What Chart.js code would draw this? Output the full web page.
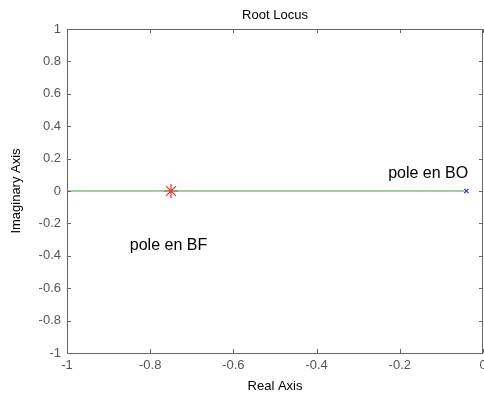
<!DOCTYPE html>
<html>
<head>
<meta charset="utf-8">
<script src="https://cdn.jsdelivr.net/npm/chart.js@4"></script>
<style>
  html, body { margin: 0; padding: 0; background: #fff; }
  #wrap { width: 484px; height: 394px; }
</style>
</head>
<body>
<div id="wrap"><canvas id="c" width="484" height="394"></canvas></div>
<script>
// lieu des racines (axe réel)
const locusX = [-1, -0.045];
const locusY = [0, 0];
// pôle en boucle fermée / ouverte
const poleBF = [-0.75, 0];
const poleBO = [-0.04, 0];
// graduations
const xTicks = [-1, -0.8, -0.6, -0.4, -0.2, 0];
const yTicks = [-1, -0.8, -0.6, -0.4, -0.2, 0, 0.2, 0.4, 0.6, 0.8, 1];
// textes
const labelTexts = ['pole en BO', 'pole en BF'];
const labelX = [-0.228, -0.849];
const labelY = [0.105, -0.34];

const axisColor = '#666';
const font = "'Liberation Sans', Arial, sans-serif";

// cadre + graduations vers l'intérieur, titre et annotations
const matlabAxes = {
  id: 'matlabAxes',
  afterDraw(chart) {
    const { ctx, chartArea: a, scales: { x, y } } = chart;
    ctx.save();
    ctx.strokeStyle = axisColor;
    ctx.lineWidth = 1;
    ctx.strokeRect(a.left + 0.5, a.top + 0.5, a.right - a.left - 1, a.bottom - a.top);
    ctx.beginPath();
    xTicks.forEach(v => {
      const px = Math.round(x.getPixelForValue(v)) + 0.5;
      ctx.moveTo(px, a.bottom); ctx.lineTo(px, a.bottom - 4);
      ctx.moveTo(px, a.top); ctx.lineTo(px, a.top + 4);
    });
    yTicks.forEach(v => {
      const py = Math.round(y.getPixelForValue(v)) + 0.5;
      ctx.moveTo(a.left, py); ctx.lineTo(a.left + 4, py);
      ctx.moveTo(a.right, py); ctx.lineTo(a.right - 4, py);
    });
    ctx.stroke();

    ctx.fillStyle = '#000';
    ctx.font = '13px ' + font;
    ctx.textAlign = 'center';
    ctx.textBaseline = 'middle';
    ctx.fillText('Root Locus', (a.left + a.right) / 2, 15);

    ctx.font = '16px ' + font;
    ctx.textAlign = 'left';
    labelTexts.forEach((t, i) => {
      ctx.fillText(t, x.getPixelForValue(labelX[i]), y.getPixelForValue(labelY[i]));
    });
    ctx.restore();
  }
};

new Chart(document.getElementById('c'), {
  type: 'scatter',
  data: {
    datasets: [
      {
        data: locusX.map((v, i) => ({ x: v, y: locusY[i] })),
        showLine: true, borderColor: 'rgb(70,160,70)', borderWidth: 1.2,
        pointRadius: 0
      },
      {
        data: [{ x: poleBF[0], y: poleBF[1] }],
        pointStyle: 'star', pointRadius: 7, borderColor: 'rgb(255,40,40)',
        backgroundColor: 'rgb(255,40,40)', pointBorderWidth: 1.2
      },
      {
        data: [{ x: poleBO[0], y: poleBO[1] }],
        pointStyle: 'crossRot', pointRadius: 3, borderColor: '#22f',
        pointBorderWidth: 1.2
      }
    ]
  },
  options: {
    responsive: false,
    animation: false,
    layout: { autoPadding: false, padding: { top: 29, right: 1, left: 0, bottom: 0 } },
    plugins: { legend: { display: false }, tooltip: { enabled: false } },
    scales: {
      x: {
        type: 'linear', min: -1, max: 0,
        afterBuildTicks: s => { s.ticks = xTicks.map(v => ({ value: v })); },
        afterFit: s => { s.height = 41; s.paddingLeft = 0; s.paddingRight = 0; },
        grid: { display: false, drawTicks: false },
        border: { display: false },
        ticks: { color: '#555', font: { size: 13, family: font }, padding: 5, maxRotation: 0,
                 callback: v => String(v) },
        title: { display: true, text: 'Real Axis', color: '#000', font: { size: 13, family: font }, padding: { top: 0, bottom: 0 } }
      },
      y: {
        type: 'linear', min: -1, max: 1,
        afterBuildTicks: s => { s.ticks = yTicks.map(v => ({ value: v })); },
        afterFit: s => { s.width = 67; s.paddingTop = 0; s.paddingBottom = 0; },
        grid: { display: false, drawTicks: false },
        border: { display: false },
        ticks: { color: '#555', font: { size: 13, family: font }, padding: 6,
                 callback: v => String(v) },
        title: { display: true, text: 'Imaginary Axis', color: '#000', font: { size: 13, family: font }, padding: { top: 9, bottom: 0 } }
      }
    }
  },
  plugins: [matlabAxes]
});
</script>
</body>
</html>
